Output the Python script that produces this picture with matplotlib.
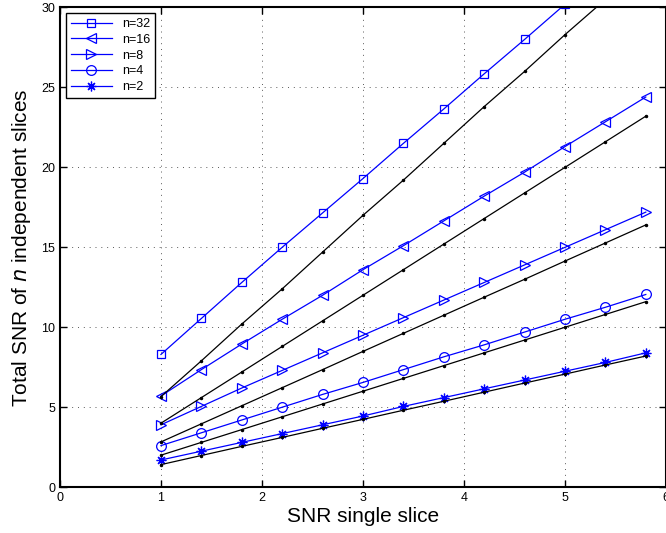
import numpy as np
import matplotlib
matplotlib.use('Agg')
import matplotlib.pyplot as plt

plt.rcParams['font.family'] = ['Liberation Sans', 'DejaVu Sans']

# single slice SNR (x positions of the markers)
snr_single = [1.0, 1.4, 1.8, 2.2, 2.6, 3.0, 3.4, 3.8, 4.2, 4.6, 5.0, 5.4, 5.8]

# blue curves
total_n32 = [8.3, 10.55, 12.8, 15.0, 17.15, 19.3, 21.5, 23.65, 25.85, 28.0, 30.2, 32.4, 34.6]
total_n16 = [5.7, 7.35, 8.95, 10.5, 12.0, 13.6, 15.1, 16.65, 18.2, 19.7, 21.3, 22.85, 24.4]
total_n8 = [3.9, 5.05, 6.2, 7.3, 8.4, 9.5, 10.6, 11.7, 12.8, 13.9, 15.0, 16.1, 17.2]
total_n4 = [2.6, 3.4, 4.2, 5.0, 5.8, 6.55, 7.35, 8.15, 8.9, 9.7, 10.5, 11.25, 12.05]
total_n2 = [1.7, 2.25, 2.8, 3.35, 3.9, 4.45, 5.05, 5.6, 6.15, 6.7, 7.25, 7.8, 8.4]

# black reference curves
ref_n32 = [5.66, 7.9, 10.2, 12.4, 14.7, 17.0, 19.2, 21.5, 23.8, 26.0, 28.3, 30.5, 32.8]
ref_n16 = [4.0, 5.6, 7.2, 8.8, 10.4, 12.0, 13.6, 15.2, 16.8, 18.4, 20.0, 21.6, 23.2]
ref_n8 = [2.83, 3.96, 5.09, 6.22, 7.35, 8.49, 9.62, 10.75, 11.88, 13.0, 14.14, 15.27, 16.4]
ref_n4 = [2.0, 2.8, 3.6, 4.4, 5.2, 6.0, 6.8, 7.6, 8.4, 9.2, 10.0, 10.8, 11.6]
ref_n2 = [1.41, 1.98, 2.55, 3.11, 3.68, 4.24, 4.81, 5.37, 5.94, 6.51, 7.07, 7.64, 8.2]

labels = ['n=32', 'n=16', 'n=8', 'n=4', 'n=2']
markers = ['s', '<', '>', 'o', (8, 2, 0)]
sizes = [6, 7, 7, 7, 7]

fig = plt.figure(figsize=(6.66, 5.33), dpi=100)
ax = fig.add_axes([0.09, 0.086, 0.91, 0.90])

for series, lab, mk, ms in zip([total_n32, total_n16, total_n8, total_n4, total_n2], labels, markers, sizes):
    ax.plot(snr_single, series, color='blue', lw=0.9, marker=mk, ms=ms,
            mfc='none', mec='blue', mew=0.9, label=lab)

for series in [ref_n32, ref_n16, ref_n8, ref_n4, ref_n2]:
    ax.plot(snr_single, series, color='black', lw=0.9, marker='.', ms=3)

ax.set_xlim(0, 6)
ax.set_ylim(0, 30)
ax.set_xticks(range(0, 7))
ax.set_yticks(range(0, 31, 5))
ax.grid(True, color='0.35', linestyle=(0, (1, 5)), lw=0.7)
ax.tick_params(direction='in', top=True, right=True, labelsize=9, length=5, width=1)
for sp in ax.spines.values():
    sp.set_linewidth(1.5)

ax.set_xlabel('SNR single slice', fontsize=15, labelpad=2)
ax.set_ylabel('Total SNR of $n$ independent slices', fontsize=15, labelpad=6)

leg = ax.legend(loc='upper left', fontsize=9, handlelength=3.3, fancybox=False,
                edgecolor='black', framealpha=1, borderpad=0.4, labelspacing=0.3,
                borderaxespad=0.45)
leg.get_frame().set_linewidth(1)

fig.savefig('out.png', dpi=100)
